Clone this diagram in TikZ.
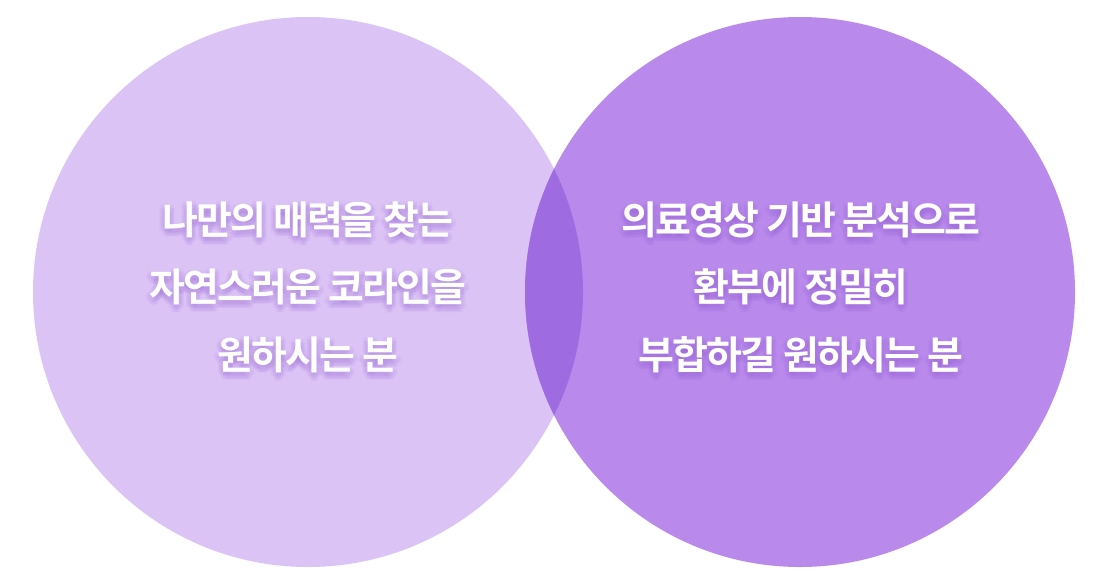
\documentclass[tikz,border=0pt]{standalone}
\usepackage{fontspec}
\newfontfamily\kofont[LetterSpace=-5]{Noto Sans CJK KR Bold}
\definecolor{leftc}{HTML}{DBC3F5}
\definecolor{rightc}{HTML}{B98AEC}
\definecolor{overc}{HTML}{9F6BE0}
\definecolor{glowc}{HTML}{8A4FD0}
\newcommand\gtext[1]{\begin{tabular}{@{}c@{}}#1\end{tabular}}
\newcommand\glowcopy[3]{\makebox[0pt][l]{\hspace*{#1pt}\raisebox{#2pt}{\gtext{#3}}}}
\newcommand\glowed[1]{%
  \pgfsetfillopacity{0.06}\color{glowc}%
  \glowcopy{0}{-2}{#1}\glowcopy{0}{-5}{#1}\glowcopy{-3}{-4}{#1}\glowcopy{3}{-4}{#1}%
  \glowcopy{-5}{-3}{#1}\glowcopy{5}{-3}{#1}\glowcopy{0}{-8}{#1}\glowcopy{-2}{-7}{#1}%
  \glowcopy{2}{-7}{#1}\glowcopy{0}{0}{#1}\glowcopy{-4}{0}{#1}\glowcopy{4}{0}{#1}%
  \pgfsetfillopacity{1}\color{white}\gtext{#1}}
\tikzset{
  label/.style={text=white, inner sep=0pt, font=\kofont\fontsize{39}{67.5}\selectfont},
}
\begin{document}
\begin{tikzpicture}[x=1pt,y=-1pt]
\useasboundingbox (0,0) rectangle (1107,584);
\fill[white] (0,0) rectangle (1107,584);
\coordinate (cl) at (308,292);
\coordinate (cr) at (800,292);
\fill[leftc] (cl) circle[radius=275];
\fill[rightc] (cr) circle[radius=275];
\begin{scope}
  \clip (cl) circle[radius=275];
  \fill[overc] (cr) circle[radius=275];
\end{scope}
\node[label] (lt) at (308,292) {\glowed{나만의 매력을 찾는\\자연스러운 코라인을\\원하시는 분}};
\node[label] (rt) at (801,292) {\glowed{의료영상 기반 분석으로\\환부에 정밀히\\부합하길 원하시는 분}};
\end{tikzpicture}
\end{document}
